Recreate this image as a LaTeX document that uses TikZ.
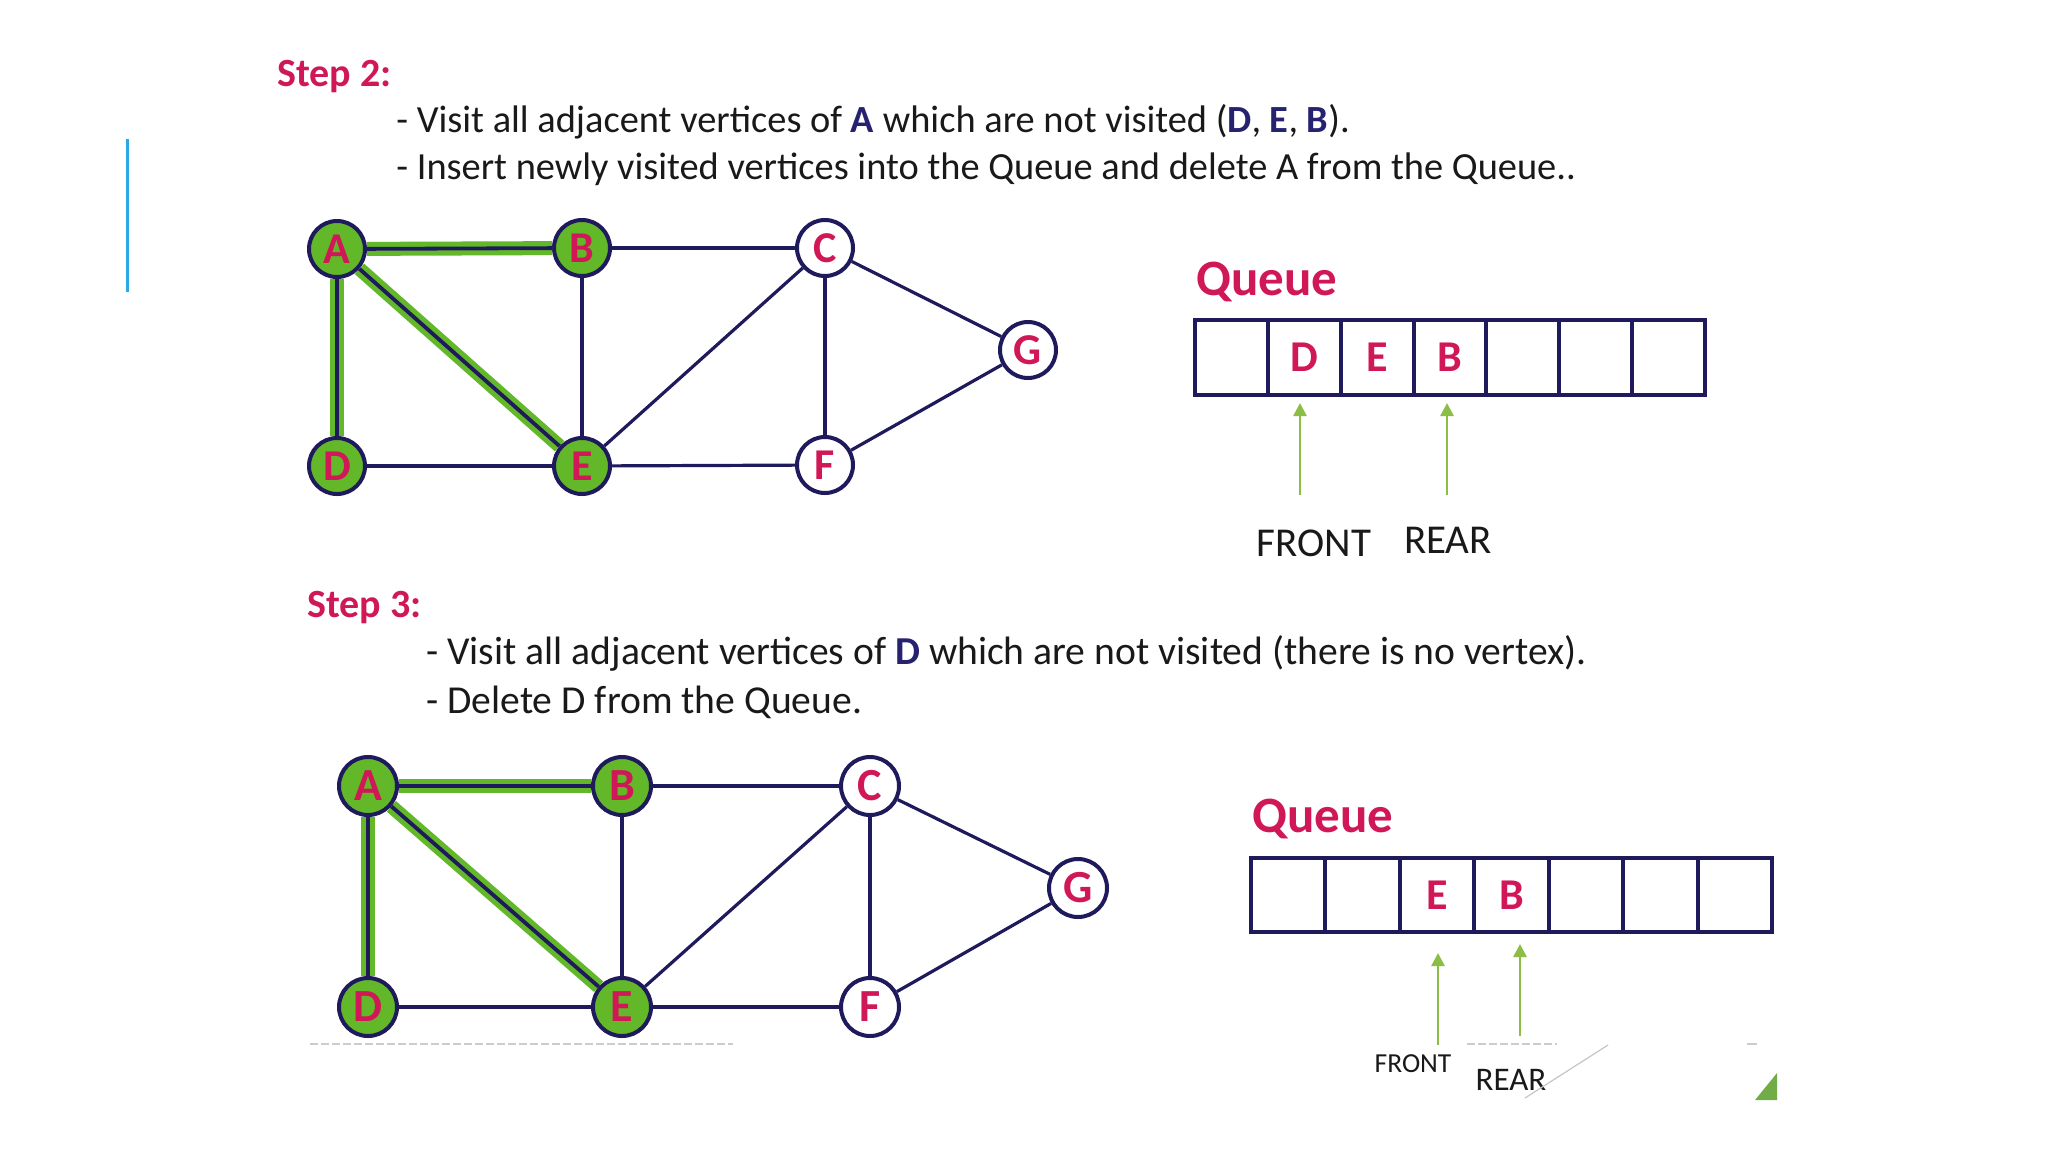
\documentclass[tikz,border=0pt]{standalone}
\usepackage{fontspec}
\setmainfont{Carlito}
\usetikzlibrary{arrows.meta}
\definecolor{crim}{RGB}{208,24,88}
\definecolor{navy}{RGB}{30,26,92}
\definecolor{tnavy}{RGB}{38,34,112}
\definecolor{vgreen}{RGB}{98,184,40}
\definecolor{agreen}{RGB}{140,190,70}
\definecolor{sblue}{RGB}{40,170,230}
\definecolor{tri}{RGB}{112,173,71}
\definecolor{txt}{RGB}{25,25,25}
\begin{document}
\begin{tikzpicture}[x=0.5pt,y=-0.5pt,
  title/.style={anchor=base west, inner sep=0, text=crim, font=\bfseries\fontsize{20}{24}\selectfont},
  body/.style={anchor=base west, inner sep=0, text=txt, font=\fontsize{19.2}{24}\selectfont},
  bodyb/.style={body, font=\fontsize{19.8}{24}\selectfont},
  vtx/.style={circle, draw=navy, line width=2pt, minimum size=28pt, inner sep=0, text=crim,
    font=\bfseries\fontsize{22}{22}\selectfont, text height=14pt, text depth=0pt},
  vtxb/.style={vtx, minimum size=29pt, font=\bfseries\fontsize{23}{23}\selectfont, text height=14.6pt},
  vis/.style={fill=vgreen},
  unv/.style={fill=white},
  edge/.style={draw=navy, line width=1.6pt},
  hledge/.style={draw=navy, line width=1.9pt},
  hl/.style={draw=vgreen, line width=7pt},
  cell/.style={rectangle, draw=navy, line width=2pt, minimum width=36.43pt, minimum height=37.5pt,
    inner sep=0, text=crim, font=\bfseries\fontsize{22}{22}\selectfont, text height=14pt, text depth=0pt},
  cellb/.style={cell, minimum width=37.21pt, minimum height=37pt},
  qlabel/.style={anchor=base west, inner sep=0, text=crim, font=\bfseries\fontsize{25.5}{26}\selectfont},
  ptrlbl/.style={inner sep=0, text=txt, text depth=0pt},
  ptr/.style={draw=agreen, line width=1.3pt, -{Triangle[width=6.5pt,length=6.5pt]}}
]
\path[fill=white] (0,0) rectangle (2048,1152);
\useasboundingbox (0,0) rectangle (2048,1152);

% left blue accent bar
\coordinate (bartop) at (127.7,139);
\coordinate (barbot) at (127.7,292);
\draw[sblue, line width=1.6pt] (bartop) -- (barbot);

% ---------------- Step 2 ----------------
\node[title] (s2) at (277,86) {Step 2:};
\node[body] (s2a) at (396,132) {- Visit all adjacent vertices of {\bfseries\color{tnavy}A} which are not visited ({\bfseries\color{tnavy}D}, {\bfseries\color{tnavy}E}, {\bfseries\color{tnavy}B}).};
\node[body] (s2b) at (396,179) {- Insert newly visited vertices into the Queue and delete A from the Queue..};

% graph 1
\node[vtx,vis] (A1) at (337,249) {A};
\node[vtx,vis] (B1) at (582,248) {B};
\node[vtx,unv] (C1) at (825,248) {C};
\node[vtx,unv] (G1) at (1028,350) {G};
\node[vtx,vis] (D1) at (337,466) {D};
\node[vtx,vis] (E1) at (582,466) {E};
\node[vtx,unv] (F1) at (825,465) {F};
\draw[hl] (A1) -- (B1);
\draw[hl] (A1) -- (D1);
\draw[hl] (A1) -- (E1);
\draw[hledge] (A1) -- (B1);
\draw[hledge] (A1) -- (D1);
\draw[hledge] (A1) -- (E1);
\draw[edge] (B1) -- (C1);
\draw[edge] (B1) -- (E1);
\draw[edge] (C1) -- (E1);
\draw[edge] (C1) -- (F1);
\draw[edge] (C1) -- (G1);
\draw[edge] (D1) -- (E1);
\draw[edge] (E1) -- (F1);
\draw[edge] (F1) -- (G1);

% queue 1
\node[qlabel] (qt1) at (1196,295) {Queue};
\node[cell] (qa1) at (1231.4,357.5) {};
\node[cell] (qa2) at (1304.3,357.5) {D};
\node[cell] (qa3) at (1377.2,357.5) {E};
\node[cell] (qa4) at (1450.0,357.5) {B};
\node[cell] (qa5) at (1522.9,357.5) {};
\node[cell] (qa6) at (1595.7,357.5) {};
\node[cell] (qa7) at (1668.6,357.5) {};
\coordinate (fa) at (1300,495);
\coordinate (ra) at (1447,495);
\draw[ptr, shorten >=3pt] (fa) -- (fa |- qa2.south);
\draw[ptr, shorten >=3pt] (ra) -- (ra |- qa4.south);
\node[ptrlbl, font=\fontsize{20.5}{21}\selectfont, text height=13.1pt] (fl1) at (1314,543) {FRONT};
\node[ptrlbl, font=\fontsize{20.5}{21}\selectfont, text height=13.1pt] (rl1) at (1448,540) {REAR};

% ---------------- Step 3 ----------------
\node[title] (s3) at (307,617) {Step 3:};
\node[bodyb] (s3a) at (426,664) {- Visit all adjacent vertices of {\bfseries\color{tnavy}D} which are not visited (there is no vertex).};
\node[bodyb] (s3b) at (426,713) {- Delete D from the Queue.};

% graph 2
\node[vtxb,vis] (A2) at (368,786) {A};
\node[vtxb,vis] (B2) at (622,786) {B};
\node[vtxb,unv] (C2) at (870,786) {C};
\node[vtxb,unv] (G2) at (1078,888) {G};
\node[vtxb,vis] (D2) at (368,1007) {D};
\node[vtxb,vis] (E2) at (622,1007) {E};
\node[vtxb,unv] (F2) at (870,1007) {F};
\draw[hl] (A2) -- (B2);
\draw[hl] (A2) -- (D2);
\draw[hl] (A2) -- (E2);
\draw[hledge] (A2) -- (B2);
\draw[hledge] (A2) -- (D2);
\draw[hledge] (A2) -- (E2);
\draw[edge] (B2) -- (C2);
\draw[edge] (B2) -- (E2);
\draw[edge] (C2) -- (E2);
\draw[edge] (C2) -- (F2);
\draw[edge] (C2) -- (G2);
\draw[edge] (D2) -- (E2);
\draw[edge] (E2) -- (F2);
\draw[edge] (F2) -- (G2);

% queue 2
\node[qlabel] (qt2) at (1252,832) {Queue};
\node[cellb] (qb1) at (1288.2,895) {};
\node[cellb] (qb2) at (1362.6,895) {};
\node[cellb] (qb3) at (1437.1,895) {E};
\node[cellb] (qb4) at (1511.5,895) {B};
\node[cellb] (qb5) at (1586.0,895) {};
\node[cellb] (qb6) at (1660.4,895) {};
\node[cellb] (qb7) at (1734.8,895) {};
\coordinate (fb) at (1438,1045);
\coordinate (rb) at (1520,1036);
\draw[ptr, shorten >=9.5pt] (fb) -- (fb |- qb3.south);
\draw[ptr, shorten >=5pt] (rb) -- (rb |- qb4.south);
\node[ptrlbl, font=\fontsize{13.75}{14}\selectfont, text height=8.8pt] (fl2) at (1413,1064) {FRONT};
\node[ptrlbl, font=\fontsize{16.5}{17}\selectfont, text height=10.6pt] (rl2) at (1511,1080) {REAR};

% faint slide artefacts
\draw[gray!40, line width=1.2pt, dash pattern=on 4pt off 1.5pt] (310,1044) -- (733,1044);
\draw[gray!40, line width=1.2pt, dash pattern=on 4pt off 1.5pt] (1467,1044) -- (1557,1044);
\draw[gray!40, line width=1.2pt] (1747,1044) -- (1757,1044);
\draw[gray!45, line width=0.6pt] (1525,1098) -- (1608,1045);
\fill[tri] (1755,1100) -- (1777,1073) -- (1777,1100) -- cycle;
\end{tikzpicture}
\end{document}
